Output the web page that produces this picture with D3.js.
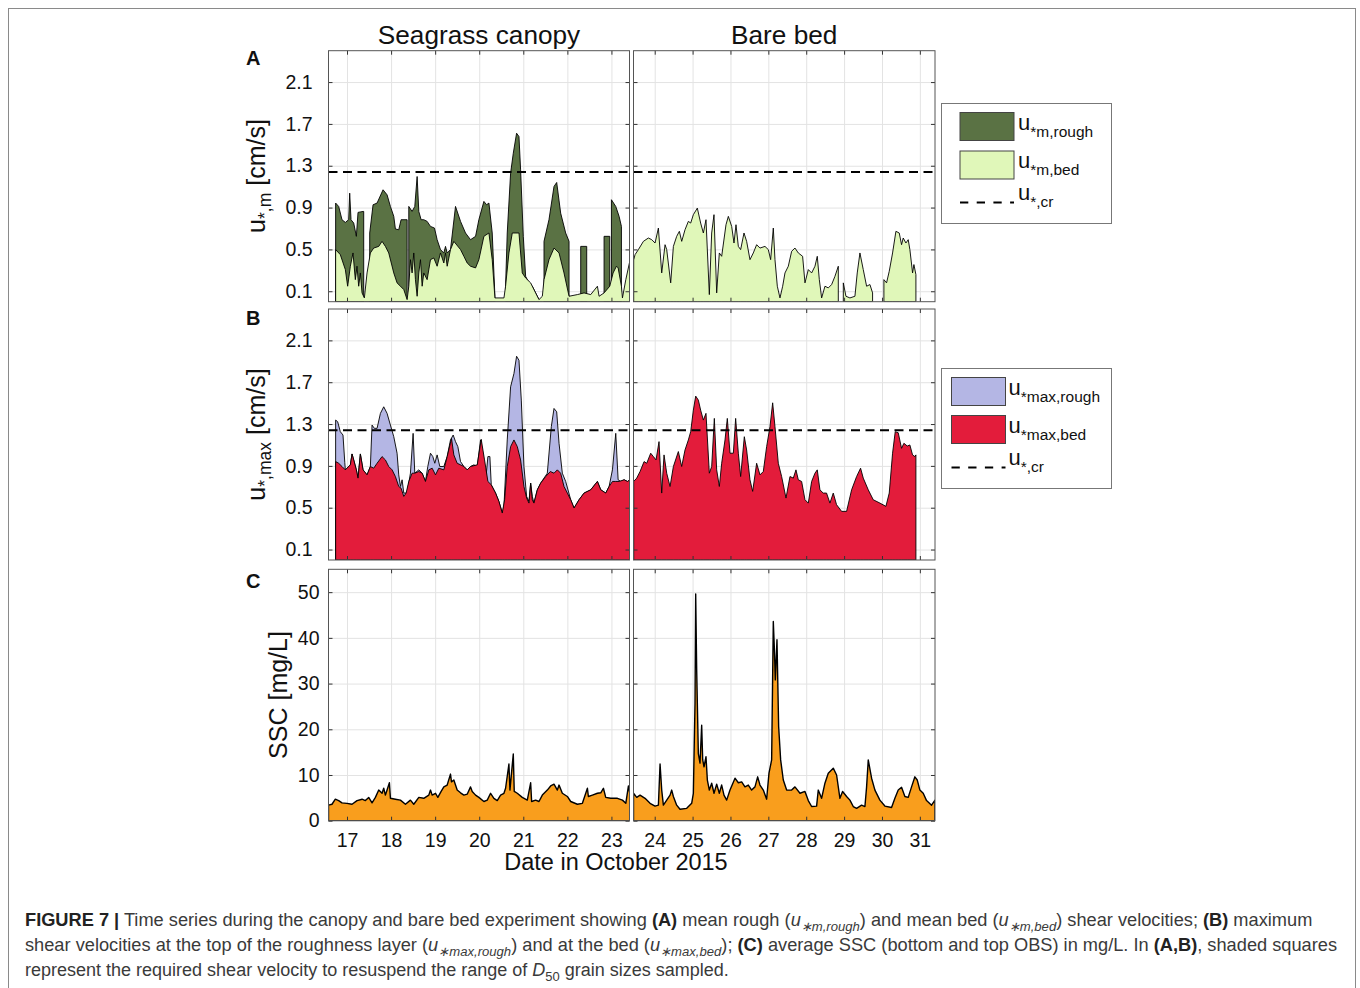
<!DOCTYPE html>
<html><head><meta charset="utf-8">
<script src="https://cdnjs.cloudflare.com/ajax/libs/d3/7.8.5/d3.min.js"></script>
<style>
body{margin:0;background:#fff}
svg text{font-family:"Liberation Sans",Arial,Helvetica,sans-serif}
</style></head>
<body><svg id="c" width="1360" height="988"></svg>
<script>
// ---------------- DATA ----------------
const panelTitles = ["Seagrass canopy", "Bare bed"];
const leftDayTicks = [17,18,19,20,21,22,23];
const rightDayTicks = [24,25,26,27,28,29,30,31];
const uTicks = [0.1,0.5,0.9,1.3,1.7,2.1];
const sscTicks = [0,10,20,30,40,50];
const uCritical = 1.24;

// (A) mean rough shear velocity, seagrass canopy [day, cm/s]; null = gap
const uMeanRoughCanopy = [[16.742,0.943],[16.811,0.911],[16.886,0.784],[16.962,0.758],[17.038,0.784],[17.061,1.038],[17.091,0.784],[17.152,0.752],[17.212,0.625],[17.250,0.854],[17.364,0.863],[17.379,0.863],[17.38,null],
[17.515,0.657],[17.591,0.927],[17.682,0.943],[17.818,1.070],[17.909,1.022],[17.985,0.911],[18.061,0.816],[18.098,0.695],[18.174,0.688],[18.227,0.784],[18.364,0.784],[18.37,null],
[18.402,0.911],[18.477,0.863],[18.538,0.911],[18.591,1.197],[18.629,0.863],[18.682,0.784],[18.742,0.784],[18.818,0.768],[18.894,0.720],[18.985,0.704],[19.045,0.593],[19.121,0.498],[19.197,0.466],[19.235,0.529],[19.273,0.466],[19.348,0.498],[19.462,0.911],[19.576,0.768],[19.689,0.657],[19.803,0.593],[19.917,0.625],[19.992,0.784],[20.106,0.959],[20.167,0.927],[20.220,0.943],[20.295,0.657],[20.356,0.052],[20.36,null],
[20.598,0.148],[20.636,0.657],[20.712,1.229],[20.773,1.420],[20.848,1.611],[20.902,1.579],[20.939,1.261],[21.000,0.625],[21.053,0.243],[21.129,0.180],[21.205,0.148],[21.280,0.084],[21.356,0.020],[21.36,null],
[21.470,0.577],[21.583,0.784],[21.697,1.102],[21.758,1.140],[21.848,0.847],[21.962,0.657],[22.038,0.577],[22.04,null],
[22.303,0.529],[22.439,0.529],[22.44,null],
[22.833,0.625],[22.962,0.625],[22.97,null],
[23.000,0.975],[23.098,0.911],[23.174,0.816],[23.227,0.720],[23.235,null]];

// (A) mean bed shear velocity, seagrass canopy
const uMeanBedCanopy = [[16.742,0.498],[16.848,0.450],[16.962,0.307],[17.015,0.148],[17.076,0.339],[17.136,0.466],[17.189,0.211],[17.227,0.339],[17.265,0.148],[17.303,0.275],[17.341,0.084],[17.394,0.036],[17.455,0.275],[17.530,0.466],[17.606,0.513],[17.720,0.529],[17.795,0.577],[17.871,0.529],[17.947,0.466],[18.061,0.275],[18.136,0.180],[18.212,0.148],[18.288,0.116],[18.364,0.020],[18.402,0.148],[18.439,0.402],[18.477,0.275],[18.515,0.466],[18.553,0.211],[18.591,0.052],[18.629,0.275],[18.667,0.402],[18.705,0.148],[18.742,0.275],[18.818,0.211],[18.894,0.402],[18.970,0.418],[19.045,0.339],[19.121,0.466],[19.197,0.370],[19.235,0.466],[19.273,0.339],[19.348,0.498],[19.424,0.577],[19.576,0.498],[19.652,0.434],[19.727,0.370],[19.803,0.339],[19.917,0.323],[19.992,0.402],[20.106,0.625],[20.220,0.657],[20.295,0.402],[20.356,0.036],[20.561,0.036],[20.598,0.148],[20.674,0.466],[20.750,0.657],[20.902,0.657],[20.977,0.275],[21.053,0.227],[21.167,0.180],[21.280,0.084],[21.356,0.020],[21.432,0.052],[21.470,0.211],[21.583,0.402],[21.697,0.513],[21.811,0.466],[21.924,0.275],[22.038,0.052],[22.227,0.068],[22.379,0.084],[22.530,0.068],[22.682,0.148],[22.720,0.052],[22.833,0.084],[22.962,0.148],[23.038,0.275],[23.114,0.339],[23.152,0.323],[23.227,0.148],[23.250,0.036],[23.326,0.211],[23.424,0.402]];

// (A) mean bed shear velocity, bare bed
const uMeanBedBare = [[23.445,0.40],[23.481,0.450],[23.569,0.498],[23.701,0.577],[23.833,0.609],[23.921,0.593],[24.009,0.561],[24.097,0.704],[24.185,0.275],[24.273,0.545],[24.317,0.498],[24.422,0.180],[24.493,0.529],[24.580,0.625],[24.651,0.673],[24.713,0.577],[24.800,0.688],[24.888,0.768],[24.950,0.752],[25.020,0.832],[25.125,0.895],[25.213,0.752],[25.284,0.657],[25.354,0.784],[25.442,0.068],[25.504,0.657],[25.565,0.832],[25.636,0.084],[25.706,0.466],[25.768,0.434],[25.882,0.736],[25.944,0.816],[26.032,0.720],[26.093,0.561],[26.146,0.736],[26.208,0.529],[26.269,0.498],[26.357,0.657],[26.427,0.577],[26.515,0.402],[26.603,0.466],[26.691,0.545],[26.779,0.513],[26.911,0.529],[26.999,0.498],[27.061,0.402],[27.131,0.704],[27.175,0.402],[27.237,0.148],[27.307,0.036],[27.378,0.148],[27.439,0.275],[27.527,0.339],[27.615,0.482],[27.703,0.513],[27.791,0.466],[27.905,0.434],[27.967,0.180],[28.055,0.307],[28.143,0.275],[28.231,0.339],[28.292,0.434],[28.346,0.211],[28.407,0.036],[28.495,0.148],[28.583,0.132],[28.671,0.164],[28.759,0.243],[28.847,0.339],[28.86,null],
[28.979,0.180],[29.049,0.052],[29.154,0.036],[29.286,0.052],[29.347,0.275],[29.418,0.466],[29.506,0.307],[29.594,0.148],[29.682,0.164],[29.752,0.084],[29.76,null],
[30.051,0.211],[30.121,0.180],[30.192,0.291],[30.280,0.466],[30.368,0.673],[30.456,0.657],[30.517,0.545],[30.561,0.609],[30.632,0.561],[30.693,0.593],[30.737,0.498],[30.808,0.275],[30.843,0.355],[30.896,0.259]];

// (B) max rough shear velocity, seagrass canopy
const uMaxRoughCanopy = [[16.742,1.338],[16.788,1.322],[16.848,1.227],[16.909,1.195],[16.950,0.930],[16.962,0.862],[17.000,0.878],[17.076,0.910],[17.114,1.014],[17.152,0.957],[17.212,0.862],[17.250,0.783],[17.303,1.014],[17.364,0.862],[17.455,0.814],[17.530,0.894],[17.568,1.290],[17.621,1.259],[17.682,1.259],[17.758,1.402],[17.833,1.465],[17.909,1.402],[17.985,1.290],[18.061,1.179],[18.136,1.021],[18.174,0.814],[18.212,0.703],[18.250,0.767],[18.288,0.640],[18.364,0.640],[18.439,0.830],[18.500,1.211],[18.538,0.830],[18.629,0.862],[18.705,0.830],[18.780,0.751],[18.833,0.894],[18.894,1.021],[18.947,0.989],[18.992,0.925],[19.045,1.005],[19.106,0.894],[19.197,0.894],[19.273,0.989],[19.348,1.148],[19.409,1.195],[19.462,1.132],[19.515,1.084],[19.576,0.941],[19.652,0.894],[19.727,0.862],[19.803,0.894],[19.879,0.910],[19.955,0.894],[20.030,1.148],[20.091,0.989],[20.144,0.751],[20.197,0.989],[20.242,0.989],[20.273,0.719],[20.371,0.640],[20.447,0.560],[20.523,0.449],[20.561,0.513],[20.636,1.148],[20.712,1.656],[20.788,1.783],[20.848,1.948],[20.902,1.910],[20.955,1.529],[21.015,0.894],[21.076,0.608],[21.129,0.560],[21.167,0.735],[21.205,0.608],[21.242,0.544],[21.318,0.671],[21.394,0.735],[21.545,0.830],[21.636,1.275],[21.697,1.449],[21.758,1.417],[21.811,1.116],[21.886,0.830],[21.962,0.751],[22.076,0.576],[22.152,0.497],[22.265,0.576],[22.379,0.640],[22.530,0.671],[22.682,0.751],[22.758,0.671],[22.871,0.640],[22.947,0.703],[23.023,0.862],[23.098,1.211],[23.152,0.767],[23.212,0.751],[23.288,0.767],[23.364,0.751],[23.424,0.767]];

// (B) max bed shear velocity, seagrass canopy
const uMaxBedCanopy = [[16.742,0.941],[16.811,0.925],[16.886,0.894],[16.962,0.862],[17.000,0.878],[17.076,0.910],[17.114,1.014],[17.152,0.957],[17.212,0.862],[17.250,0.783],[17.303,1.014],[17.364,0.862],[17.455,0.814],[17.530,0.894],[17.606,0.878],[17.682,0.925],[17.795,0.989],[17.871,0.957],[17.947,0.894],[18.023,0.862],[18.098,0.798],[18.174,0.703],[18.227,0.687],[18.288,0.608],[18.341,0.640],[18.402,0.751],[18.477,0.830],[18.538,0.830],[18.629,0.846],[18.705,0.830],[18.780,0.751],[18.856,0.862],[18.932,0.878],[19.008,0.814],[19.083,0.878],[19.197,0.862],[19.273,0.989],[19.371,1.163],[19.424,1.005],[19.500,0.925],[19.576,0.910],[19.652,0.894],[19.727,0.862],[19.803,0.894],[19.955,0.910],[20.045,1.154],[20.121,0.957],[20.197,0.751],[20.273,0.719],[20.371,0.640],[20.447,0.560],[20.523,0.449],[20.576,0.576],[20.636,0.894],[20.712,1.084],[20.788,1.148],[20.864,1.084],[20.939,0.957],[21.015,0.703],[21.076,0.592],[21.129,0.544],[21.167,0.735],[21.205,0.576],[21.242,0.544],[21.318,0.671],[21.394,0.735],[21.508,0.798],[21.614,0.846],[21.697,0.830],[21.773,0.862],[21.848,0.830],[21.924,0.703],[22.000,0.640],[22.076,0.576],[22.152,0.497],[22.265,0.576],[22.379,0.640],[22.530,0.671],[22.682,0.751],[22.758,0.671],[22.871,0.640],[22.947,0.703],[23.023,0.751],[23.098,0.751],[23.174,0.751],[23.288,0.767],[23.364,0.751],[23.424,0.767]];

// (B) max bed shear velocity, bare bed
const uMaxBedBare = [[23.445,0.751],[23.525,0.783],[23.613,0.846],[23.719,0.941],[23.789,0.925],[23.894,1.021],[23.965,0.989],[24.035,0.957],[24.114,1.132],[24.185,0.640],[24.246,1.005],[24.317,0.830],[24.405,0.703],[24.493,0.894],[24.624,1.037],[24.712,0.894],[24.800,1.052],[24.888,1.148],[24.950,1.227],[25.020,1.433],[25.082,1.567],[25.152,1.529],[25.213,1.433],[25.284,1.338],[25.354,1.402],[25.442,0.830],[25.504,0.894],[25.574,1.354],[25.636,0.862],[25.706,0.703],[25.768,0.925],[25.856,1.148],[25.917,1.354],[25.988,1.021],[26.076,1.021],[26.137,1.354],[26.208,1.021],[26.269,0.798],[26.366,1.179],[26.427,1.052],[26.515,0.767],[26.586,0.656],[26.691,0.925],[26.779,0.814],[26.867,0.846],[26.955,1.084],[27.043,1.275],[27.114,1.503],[27.175,1.275],[27.263,0.925],[27.351,0.798],[27.466,0.592],[27.571,0.798],[27.659,0.783],[27.729,0.862],[27.791,0.767],[27.879,0.751],[27.967,0.576],[28.055,0.544],[28.143,0.751],[28.231,0.830],[28.292,0.862],[28.362,0.671],[28.449,0.640],[28.537,0.640],[28.626,0.544],[28.714,0.640],[28.801,0.529],[28.934,0.465],[29.066,0.465],[29.198,0.671],[29.330,0.798],[29.435,0.878],[29.506,0.783],[29.638,0.671],[29.770,0.576],[29.946,0.544],[30.104,0.513],[30.192,0.640],[30.280,1.021],[30.350,1.227],[30.429,1.217],[30.517,1.068],[30.579,1.116],[30.667,1.090],[30.737,1.100],[30.807,1.005],[30.869,0.989],[30.896,1.005]];

// (C) SSC [mg/L]
const sscCanopy = [[16.58,3.4],[16.659,3.6],[16.735,4.7],[16.811,4.4],[16.886,3.9],[17.000,3.8],[17.114,3.6],[17.227,4.4],[17.341,4.7],[17.417,4.4],[17.492,5.1],[17.568,3.9],[17.644,5.1],[17.720,6.7],[17.795,6.0],[17.833,7.1],[17.871,5.6],[17.909,6.7],[17.962,8.3],[17.985,4.9],[18.098,4.7],[18.212,4.5],[18.326,3.6],[18.439,4.5],[18.515,3.6],[18.629,5.1],[18.742,4.9],[18.856,5.6],[18.894,6.7],[18.932,5.6],[19.008,6.0],[19.061,5.1],[19.136,6.4],[19.197,7.4],[19.273,7.8],[19.348,10.2],[19.371,8.5],[19.424,8.9],[19.500,6.7],[19.576,6.1],[19.652,5.6],[19.727,5.8],[19.803,7.4],[19.841,6.4],[19.917,5.6],[19.992,5.1],[20.106,4.2],[20.182,4.5],[20.258,6.0],[20.333,4.9],[20.409,4.4],[20.485,5.6],[20.561,6.0],[20.598,7.1],[20.674,12.4],[20.697,6.7],[20.773,14.6],[20.795,6.4],[20.864,6.0],[20.977,5.1],[21.091,4.5],[21.167,8.3],[21.189,4.2],[21.280,4.5],[21.356,4.2],[21.432,5.6],[21.545,6.7],[21.621,7.6],[21.697,8.0],[21.773,6.7],[21.811,7.8],[21.886,6.0],[22.000,5.3],[22.076,4.2],[22.227,3.6],[22.341,3.8],[22.455,7.1],[22.477,5.3],[22.568,5.6],[22.682,6.0],[22.758,6.1],[22.818,7.1],[22.871,5.1],[22.985,4.9],[23.136,4.9],[23.250,4.5],[23.326,3.8],[23.386,7.6],[23.417,6.0]];
const sscBare = [[23.44,6.0],[23.525,5.1],[23.613,5.6],[23.745,4.9],[23.877,3.8],[24.009,3.2],[24.097,3.4],[24.141,12.4],[24.185,6.7],[24.229,3.4],[24.317,4.5],[24.405,5.6],[24.449,6.7],[24.493,5.3],[24.580,3.4],[24.668,2.5],[24.844,2.7],[24.976,3.8],[25.020,6.0],[25.064,25.7],[25.082,49.6],[25.108,33.0],[25.152,14.7],[25.196,12.6],[25.240,20.9],[25.267,13.3],[25.302,11.8],[25.354,14.0],[25.390,8.9],[25.442,6.7],[25.504,8.2],[25.566,6.0],[25.636,8.0],[25.706,6.0],[25.768,7.8],[25.829,5.6],[25.900,4.5],[25.988,6.7],[26.120,9.3],[26.208,8.3],[26.296,8.5],[26.383,7.4],[26.471,7.8],[26.559,6.7],[26.647,7.4],[26.718,9.6],[26.779,7.8],[26.867,6.7],[26.955,4.7],[27.017,10.4],[27.087,13.3],[27.131,43.6],[27.157,38.1],[27.184,30.8],[27.228,39.6],[27.272,20.6],[27.325,13.3],[27.395,8.9],[27.483,6.7],[27.615,6.7],[27.703,7.4],[27.835,6.0],[27.967,6.4],[28.055,4.4],[28.143,3.1],[28.274,3.2],[28.318,6.7],[28.406,4.9],[28.494,8.2],[28.582,10.4],[28.714,11.5],[28.802,10.0],[28.890,4.9],[28.960,6.4],[29.066,5.3],[29.154,4.5],[29.242,3.1],[29.330,2.7],[29.462,3.4],[29.550,3.1],[29.594,7.4],[29.638,13.3],[29.726,9.3],[29.814,6.7],[29.945,4.5],[30.077,3.2],[30.253,2.9],[30.341,4.9],[30.429,6.7],[30.517,7.3],[30.605,5.3],[30.693,5.1],[30.781,7.4],[30.869,9.6],[30.931,8.9],[31.001,6.7],[31.089,6.0],[31.177,4.4],[31.309,3.4],[31.40,4.5]];

const legendA = [{kind:"rect", fill:"roughA", sub:"*m,rough"},{kind:"rect", fill:"bedA", sub:"*m,bed"},{kind:"line", sub:"*,cr"}];
const legendB = [{kind:"rect", fill:"roughB", sub:"*max,rough"},{kind:"rect", fill:"bedB", sub:"*max,bed"},{kind:"line", sub:"*,cr"}];

// ---------------- STYLE ----------------
const C = {roughA:"#5a7244", bedA:"#e0f7b9", roughB:"#b4b6e4", bedB:"#e31c3b", ssc:"#f99e1d",
           grid:"#e3e3e3", frame:"#555", tick:"#333", text:"#111"};
const colX = [[328.5,629.5],[633.5,935]];
const rowY = [[50.7,301.7],[309,560],[569.3,820.7]];
const xDom = [[16.58,23.41],[23.44,31.40]];
const yDom = [[0,2.4],[0,2.4],[0,55]];

const svg = d3.select("#c");
svg.append("rect").attr("x",8.5).attr("y",8.5).attr("width",1347).attr("height",1000)
   .attr("fill","none").attr("stroke","#8a8a8a").attr("stroke-width",1);

let clipN = 0;
function panel(row, col, layers, opts){
  const [x0,x1] = colX[col], [y0,y1] = rowY[row];
  const x = d3.scaleLinear().domain(xDom[col]).range([x0,x1]);
  const y = d3.scaleLinear().domain(yDom[row]).range([y1,y0]);
  const xt = col===0 ? leftDayTicks : rightDayTicks;
  const yt = row===2 ? sscTicks : uTicks;
  const g = svg.append("g");
  const gx = g.append("g").attr("transform",`translate(0,${y1})`)
     .call(d3.axisBottom(x).tickValues(xt).tickSize(-(y1-y0)).tickFormat(""));
  const gy = g.append("g").attr("transform",`translate(${x0},0)`)
     .call(d3.axisLeft(y).tickValues(yt).tickSize(-(x1-x0)).tickFormat(""));
  [gx,gy].forEach(a=>{a.select(".domain").remove(); a.selectAll("line").attr("stroke",C.grid).attr("stroke-width",1);});
  const id = "clip"+(clipN++);
  svg.append("clipPath").attr("id",id).append("rect").attr("x",x0).attr("y",y0).attr("width",x1-x0).attr("height",y1-y0);
  const plot = g.append("g").attr("clip-path",`url(#${id})`);
  const area = d3.area().defined(d=>d[1]!==null).x(d=>x(d[0])).y0(y(0)).y1(d=>y(d[1]));
  layers.forEach(L=>{
    plot.append("path").datum(L.data).attr("d",area).attr("fill",L.fill)
      .attr("stroke","#000").attr("stroke-width",L.sw||0.9).attr("stroke-linejoin","round");
  });
  if(opts.crit){
    plot.append("line").attr("x1",x0).attr("x2",x1).attr("y1",y(uCritical)).attr("y2",y(uCritical))
      .attr("stroke","#000").attr("stroke-width",2).attr("stroke-dasharray","9,5.5");
  }
  const tl = g.append("g").attr("transform",`translate(${x0},0)`)
     .call(d3.axisLeft(y).tickValues(yt).tickSize(-4).tickPadding(row===2?9:16).tickFormat(col===0?(row===2?d3.format("d"):d3.format(".1f")):""));
  const tr = g.append("g").attr("transform",`translate(${x1},0)`)
     .call(d3.axisRight(y).tickValues(yt).tickSize(-4).tickFormat(""));
  const tt = g.append("g").attr("transform",`translate(0,${y0})`)
     .call(d3.axisTop(x).tickValues(xt).tickSize(-4).tickFormat(""));
  const tb = g.append("g").attr("transform",`translate(0,${y1})`)
     .call(d3.axisBottom(x).tickValues(xt).tickSize(-4).tickPadding(12).tickFormat(row===2?d3.format("d"):""));
  [tl,tr,tt,tb].forEach(a=>{
    a.select(".domain").remove();
    a.selectAll("line").attr("stroke",C.tick).attr("stroke-width",1);
    a.selectAll("text").attr("font-size",19.5).attr("fill",C.text).attr("font-family","Liberation Sans, Arial, sans-serif");
  });
  g.append("rect").attr("x",x0).attr("y",y0).attr("width",x1-x0).attr("height",y1-y0)
    .attr("fill","none").attr("stroke",C.frame).attr("stroke-width",1);
  return {x,y};
}

panel(0,0,[{data:uMeanRoughCanopy,fill:C.roughA},{data:uMeanBedCanopy,fill:C.bedA}],{crit:true});
panel(0,1,[{data:uMeanBedBare,fill:C.bedA}],{crit:true});
panel(1,0,[{data:uMaxRoughCanopy,fill:C.roughB},{data:uMaxBedCanopy,fill:C.bedB}],{crit:true});
panel(1,1,[{data:uMaxBedBare,fill:C.bedB}],{crit:true});
panel(2,0,[{data:sscCanopy,fill:C.ssc,sw:1.4}],{});
panel(2,1,[{data:sscBare,fill:C.ssc,sw:1.4}],{});

panelTitles.forEach((t,i)=>{
  svg.append("text").attr("x",(colX[i][0]+colX[i][1])/2).attr("y",44).attr("text-anchor","middle")
    .attr("font-size",26.2).attr("fill",C.text).text(t);
});
[["A",65],["B",325],["C",588]].forEach(([l,yy])=>{
  svg.append("text").attr("x",246).attr("y",yy).attr("font-size",20).attr("font-weight","bold").attr("fill",C.text).text(l);
});
function ylab(cx, cy, main, sub, rest){
  const t = svg.append("text").attr("transform",`translate(${cx},${cy}) rotate(-90)`)
    .attr("text-anchor","middle").attr("font-size",25).attr("fill",C.text);
  t.append("tspan").text(main);
  if(sub){
    t.append("tspan").attr("font-size",17.5).attr("dy",6).text(sub);
    t.append("tspan").attr("dy",-6).text(rest);
  } else t.append("tspan").text(rest);
}
ylab(265,176,"u","*,m"," [cm/s]");
ylab(265,434.5,"u","*,max"," [cm/s]");
ylab(287,695,"SSC",null," [mg/L]");
svg.append("text").attr("x",616).attr("y",870).attr("text-anchor","middle").attr("font-size",23.5)
  .attr("fill",C.text).text("Date in October 2015");

function legend(bx, by, sx, tx, items, rowsY, lineY){
  svg.append("rect").attr("x",bx).attr("y",by).attr("width",170).attr("height",120)
    .attr("fill","#fff").attr("stroke","#777").attr("stroke-width",1);
  items.forEach((it,i)=>{
    let base;
    if(it.kind==="rect"){
      svg.append("rect").attr("x",sx).attr("y",by+rowsY[i]).attr("width",54).attr("height",28)
        .attr("fill",C[it.fill]).attr("stroke","#444").attr("stroke-width",1);
      base = by+rowsY[i]+17;
    } else {
      svg.append("line").attr("x1",sx).attr("x2",sx+54).attr("y1",by+lineY).attr("y2",by+lineY)
        .attr("stroke","#000").attr("stroke-width",2).attr("stroke-dasharray","8.3,8.4");
      base = by+lineY-3;
    }
    const t = svg.append("text").attr("x",tx).attr("y",base).attr("font-size",22).attr("fill",C.text);
    t.append("tspan").text("u");
    t.append("tspan").attr("font-size",15.5).attr("dy",7).text(it.sub);
  });
}
legend(941.5,103.5,960,1018,legendA,[9,47.5],99);
legend(941.5,368.5,951.5,1008.5,legendB,[9,47],99);

const captionLines = [
 [{t:"FIGURE 7 |",b:1},{t:" Time series during the canopy and bare bed experiment showing "},{t:"(A)",b:1},{t:" mean rough ("},{t:"u",i:1},{t:"∗m,rough",i:1,s:1},{t:") and mean bed ("},{t:"u",i:1},{t:"∗m,bed",i:1,s:1},{t:") shear velocities; "},{t:"(B)",b:1},{t:" maximum"}],
 [{t:"shear velocities at the top of the roughness layer ("},{t:"u",i:1},{t:"∗max,rough",i:1,s:1},{t:") and at the bed ("},{t:"u",i:1},{t:"∗max,bed",i:1,s:1},{t:"); "},{t:"(C)",b:1},{t:" average SSC (bottom and top OBS) in mg/L. In "},{t:"(A,B)",b:1},{t:", shaded squares"}],
 [{t:"represent the required shear velocity to resuspend the range of "},{t:"D",i:1},{t:"50",s:1},{t:" grain sizes sampled."}]
];
const capTargets = [[926,1288],[951,1312],[976,704]];
captionLines.forEach((segs,k)=>{
  const t = svg.append("text").attr("x",25).attr("y",capTargets[k][0]).attr("font-size",17).attr("fill","#3a3a3a");
  let down=false;
  segs.forEach(s=>{
    const ts = t.append("tspan").text(s.t);
    if(s.b) ts.attr("font-weight","bold").attr("fill","#222");
    if(s.i) ts.attr("font-style","italic");
    if(s.s){ ts.attr("font-size","72%"); if(!down){ts.attr("dy","0.35em"); down=true;} }
    else if(down){ ts.attr("dy","-0.25em"); down=false; }
  });
  const w = t.node().getComputedTextLength();
  t.attr("font-size", 17*capTargets[k][1]/w);
});
</script></body></html>
